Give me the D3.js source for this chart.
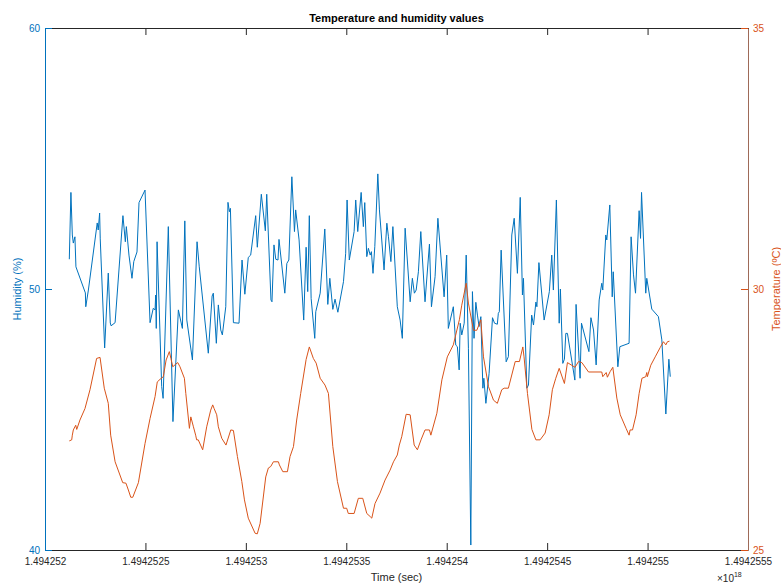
<!DOCTYPE html>
<html>
<head>
<meta charset="utf-8">
<script src="https://cdn.jsdelivr.net/npm/d3@7"></script>
<style>
body { margin: 0; background: #fff; }
#chart svg { display: block; font-family: "Liberation Sans", Arial, sans-serif; }
</style>
</head>
<body>
<div id="chart"></div>
<script>
// start of the log, unix seconds; times below are seconds after it
const startSec = 1494252000

const humTime = [121,129,136,141,149,154,201,203,216,260,265,272,275,297,315,325,329,349,388,400,405,418,433,442,458,468,498,523,539,548,551,554,558,581,588,614,637,664,684,696,706,734,757,768,813,832,838,853,863,875,883,900,911,918,923,938,966,981,995,1012,1024,1049,1057,1077,1097,1104,1125,1130,1140,1149,1160,1165,1194,1204,1214,1229,1242,1248,1265,1288,1300,1308,1316,1325,1343,1348,1370,1393,1408,1418,1433,1444,1458,1486,1497,1504,1515,1539,1547,1557,1574,1585,1592,1602,1610,1619,1625,1633,1642,1657,1665,1688,1702,1710,1722,1732,1754,1768,1779,1793,1818,1829,1839,1848,1859,1871,1892,1914,1924,1942,1956,1987,2000,2008,2033,2045,2053,2062,2067,2075,2087,2097,2108,2120,2128,2136,2145,2153,2161,2170,2180,2185,2195,2211,2228,2238,2252,2257,2262,2271,2296,2307,2324,2336,2352,2366,2377,2382,2399,2407,2423,2432,2444,2449,2459,2485,2511,2523,2531,2546,2560,2566,2578,2586,2593,2601,2638,2644,2664,2671,2708,2718,2731,2744,2759,2772,2777,2792,2797,2812,2824,2829,2852,2862,2908,2918,2930,2940,2958,2965,2970,2991,2996,3021,3054,3071,3091,3106,3113]
const humidity = [51.14,53.70,52.07,51.76,52.00,50.85,49.85,49.32,49.96,52.53,52.26,52.91,51.92,47.74,50.61,48.70,48.59,48.71,52.81,51.81,52.39,51.30,50.41,51.05,51.42,53.31,53.79,48.71,49.26,49.20,49.77,48.49,51.81,46.26,45.81,52.39,44.92,49.20,48.49,52.61,48.81,47.28,51.81,50.85,47.54,49.73,49.84,47.92,49.39,48.43,48.24,49.32,53.32,52.96,53.09,48.71,48.69,51.11,49.80,51.21,51.30,52.81,51.60,53.63,52.23,53.63,49.58,49.51,51.69,51.14,51.11,51.90,49.84,50.98,51.11,54.30,52.20,53.03,51.88,48.81,51.60,49.90,52.81,49.64,48.11,49.13,49.84,52.30,49.41,50.41,49.22,49.61,49.11,50.28,51.37,53.41,51.11,52.20,53.41,52.20,53.70,52.39,53.31,51.24,51.56,51.30,51.43,50.60,51.62,54.41,53.03,50.73,52.52,52.00,51.05,52.39,49.32,48.81,48.11,52.33,49.51,50.41,49.84,49.96,50.66,52.20,49.51,51.72,49.32,50.47,52.71,49.70,51.30,48.49,49.32,47.85,47.79,46.90,48.69,48.24,48.69,51.30,47.73,40.19,49.90,48.11,49.49,49.00,48.56,48.94,46.20,46.58,45.62,46.77,48.90,48.69,48.65,49.07,49.13,51.49,47.21,47.41,52.07,52.71,50.60,53.51,49.77,50.41,46.20,46.32,49.00,48.62,49.50,49.32,51.01,48.81,49.90,51.30,49.96,53.41,48.69,50.00,47.15,47.31,48.30,48.30,46.51,49.41,46.58,48.69,47.60,48.90,48.43,47.09,49.58,50.22,49.96,52.07,51.88,53.22,49.70,50.66,47.02,47.79,47.92,52.00,50.54,49.84,53.00,51.94,53.70,49.84,50.41,49.23,48.94,48.05,45.21,47.31,46.64]

const tempTime = [121,133,136,141,153,158,174,199,224,257,274,295,315,327,349,387,403,415,427,437,465,498,523,548,559,573,589,603,619,627,636,651,661,672,694,701,719,726,739,750,755,763,785,805,825,835,842,855,863,880,901,925,938,958,980,993,1012,1046,1057,1071,1099,1112,1124,1137,1162,1167,1184,1207,1220,1237,1253,1273,1300,1316,1336,1350,1370,1394,1411,1433,1456,1486,1502,1510,1539,1560,1582,1602,1619,1627,1643,1668,1693,1718,1735,1754,1764,1776,1798,1818,1838,1854,1872,1892,1914,1921,1951,1976,2003,2033,2063,2075,2097,2108,2133,2150,2170,2183,2208,2233,2252,2274,2286,2307,2341,2362,2379,2385,2402,2424,2444,2465,2490,2510,2526,2543,2560,2586,2601,2639,2656,2673,2706,2772,2777,2794,2800,2814,2827,2847,2864,2893,2908,2913,2925,2943,2958,2972,2991,2996,2999,3016,3038,3063,3079,3091,3099,3109]
const temperature = [27.09,27.11,27.20,27.30,27.39,27.31,27.49,27.71,28.07,28.67,28.69,28.10,27.81,27.20,26.69,26.29,26.28,26.15,26.01,26.01,26.29,27.04,27.52,27.94,28.22,28.27,28.32,28.64,28.80,28.67,28.51,28.56,28.59,28.51,28.29,28.00,27.33,27.55,27.36,27.20,27.11,27.11,26.92,27.36,27.68,27.78,27.71,27.59,27.36,27.14,27.01,27.30,27.29,26.79,26.31,25.96,25.61,25.32,25.31,25.51,26.40,26.57,26.60,26.69,26.69,26.63,26.50,26.50,26.79,26.98,27.49,28.00,28.65,28.89,28.67,28.58,28.29,28.16,28.00,26.98,26.31,25.80,25.80,25.70,25.70,25.99,25.99,25.70,25.64,25.61,25.89,26.09,26.34,26.53,26.69,26.82,27.01,27.17,27.60,27.59,27.01,26.92,27.11,27.30,27.30,27.20,27.62,28.26,28.70,28.93,29.41,29.69,30.11,29.73,29.21,29.21,29.41,28.70,28.13,27.87,27.81,28.07,28.10,28.10,28.61,28.61,28.89,28.70,28.00,27.31,27.11,27.11,27.24,27.59,28.07,28.29,28.48,28.19,28.59,28.50,28.61,28.59,28.41,28.41,28.32,28.40,28.31,28.42,28.50,27.91,27.59,27.33,27.20,27.30,27.30,27.59,28.00,28.29,28.32,28.40,28.32,28.54,28.70,28.88,28.99,28.93,28.99,29.00]

// x ticks in units of 1e18 ns
const xTicks = [1.494252, 1.4942525, 1.494253, 1.4942535, 1.494254, 1.4942545, 1.494255, 1.4942555]
const humTicks = [40, 50, 60]
const tempTicks = [25, 30, 35]

const blue = '#0072BD'
const orange = '#D95319'
const dark = '#262626'

const width = 781
const height = 585
const margin = { top: 28, bottom: 35, left: 45, right: 33 }
const innerWidth = width - margin.left - margin.right
const innerHeight = height - margin.top - margin.bottom

const toX = t => (startSec + t) / 1e9

const svg = d3.select('#chart').append('svg')
  .attr('width', width)
  .attr('height', height)

const g = svg.append('g')
  .attr('transform', `translate(${margin.left},${margin.top})`)

const xScale = d3.scaleLinear()
  .domain([xTicks[0], xTicks[xTicks.length - 1]])
  .range([0, innerWidth])
const yHum = d3.scaleLinear().domain([40, 60]).range([innerHeight, 0])
const yTemp = d3.scaleLinear().domain([25, 35]).range([innerHeight, 0])

const fmtX = v => (+v.toFixed(7)).toString()

const styleAxis = (sel, color) => {
  sel.selectAll('path').attr('stroke', color)
  sel.selectAll('line').attr('stroke', color)
  sel.selectAll('text').attr('fill', color).style('font-size', '10px')
}

g.append('g')
  .attr('transform', `translate(0,${innerHeight})`)
  .call(d3.axisBottom(xScale).tickValues(xTicks).tickFormat(fmtX).tickSize(-7).tickSizeOuter(0).tickPadding(8))
  .call(sel => styleAxis(sel, dark))

g.append('g')
  .call(d3.axisTop(xScale).tickValues(xTicks).tickFormat('').tickSize(-7).tickSizeOuter(0))
  .call(sel => styleAxis(sel, dark))

g.append('g')
  .call(d3.axisLeft(yHum).tickValues(humTicks).tickSize(-7).tickSizeOuter(0).tickPadding(5))
  .call(sel => styleAxis(sel, blue))

g.append('g')
  .attr('transform', `translate(${innerWidth},0)`)
  .call(d3.axisRight(yTemp).tickValues(tempTicks).tickSize(-7).tickSizeOuter(0).tickPadding(5))
  .call(sel => styleAxis(sel, orange))
  .call(sel => sel.select('path').attr('stroke', '#9e6a58'))

const humLine = d3.line()
  .x((d, i) => xScale(toX(humTime[i])))
  .y(d => yHum(d))
const tempLine = d3.line()
  .x((d, i) => xScale(toX(tempTime[i])))
  .y(d => yTemp(d))

g.append('path')
  .datum(humidity)
  .attr('d', humLine)
  .attr('fill', 'none')
  .attr('stroke', blue)
  .attr('stroke-width', 1)

g.append('path')
  .datum(temperature)
  .attr('d', tempLine)
  .attr('fill', 'none')
  .attr('stroke', orange)
  .attr('stroke-width', 1)

svg.append('text')
  .text('Temperature and humidity values')
  .attr('x', margin.left + innerWidth / 2)
  .attr('y', 22)
  .attr('text-anchor', 'middle')
  .attr('fill', '#000')
  .style('font-size', '11px')
  .style('font-weight', 'bold')

svg.append('text')
  .text('Time (sec)')
  .attr('x', margin.left + innerWidth / 2)
  .attr('y', 581)
  .attr('text-anchor', 'middle')
  .attr('fill', dark)
  .style('font-size', '11px')

const expo = svg.append('text')
  .attr('x', 717)
  .attr('y', 582)
  .attr('fill', dark)
  .style('font-size', '10px')
expo.append('tspan').text('×10')
expo.append('tspan').text('18').attr('dy', -5).style('font-size', '7px')

svg.append('text')
  .text('Humidity (%)')
  .attr('transform', `translate(21,${margin.top + innerHeight / 2}) rotate(-90)`)
  .attr('text-anchor', 'middle')
  .attr('fill', blue)
  .style('font-size', '11px')

svg.append('text')
  .text('Temperature (ºC)')
  .attr('transform', `translate(780,${margin.top + innerHeight / 2}) rotate(-90)`)
  .attr('text-anchor', 'middle')
  .attr('fill', orange)
  .style('font-size', '11px')
</script>
</body>
</html>
